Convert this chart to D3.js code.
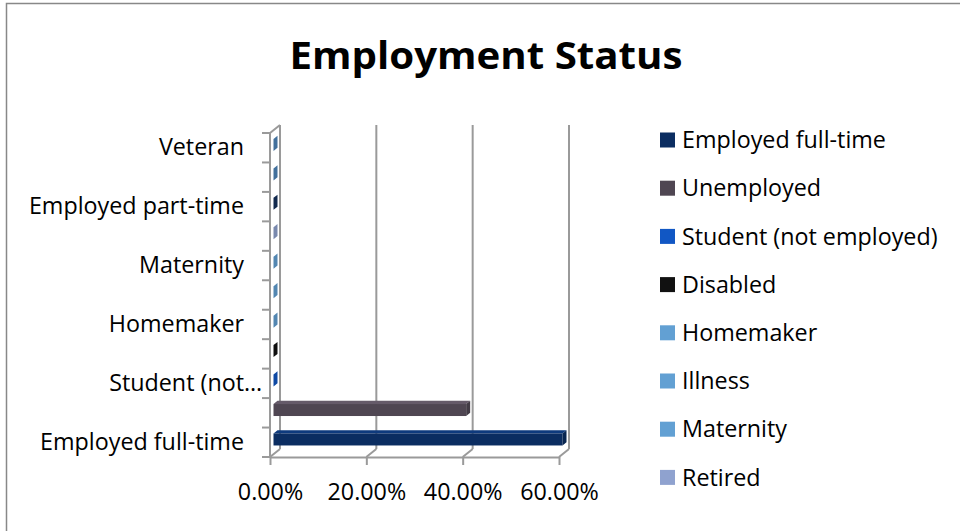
<!DOCTYPE html>
<html>
<head>
<meta charset="utf-8">
<script src="https://cdn.jsdelivr.net/npm/d3@7"></script>
<style>
  html, body { margin: 0; padding: 0; background: #fff; }
  svg { display: block; }
  text { font-family: "Open Sans", Lato, sans-serif; fill: #000; }
</style>
</head>
<body>
<svg id="chart" width="960" height="531"></svg>
<script>
// Employment status responses (share of respondents)
const categories = [
  "Employed full-time", "Unemployed", "Student (not employed)", "Disabled",
  "Homemaker", "Illness", "Maternity", "Retired",
  "Employed part-time", "Self-employed", "Veteran"
];
const values = [0.60, 0.40, 0, 0, 0, 0, 0, 0, 0, 0, 0];
const colors = [
  "#0B2D61", "#4F4652", "#1157C4", "#111111",
  "#62A0D3", "#62A0D3", "#62A0D3", "#8FA2CF",
  "#13305C", "#4F86BA", "#4F86BA"
];
// category axis shows every other label
const categoryTickLabels = [
  "Employed full-time", "", "Student (not…", "", "Homemaker", "",
  "Maternity", "", "Employed part-time", "", "Veteran"
];
const xTicks = [0, 0.2, 0.4, 0.6];
const legendCount = 8;   // legend box only has room for the first eight entries

const svg = d3.select("#chart");
const gridColor = "#9a9a9a";
const labelFont = "23.3px";

// chart frame
svg.append("rect")
  .attr("x", 6.5).attr("y", 3.5)
  .attr("width", 980).attr("height", 560)
  .attr("fill", "none").attr("stroke", "#888").attr("stroke-width", 1.5);

// title
svg.append("text")
  .attr("x", 486).attr("y", 69)
  .attr("text-anchor", "middle")
  .attr("textLength", 393).attr("lengthAdjust", "spacingAndGlyphs")
  .style("font-size", "38px").style("font-weight", 700)
  .text("Employment Status");

// scales (front plane of the 3-D box)
const x = d3.scaleLinear().domain([0, 0.6]).range([270, 559]);
const y = d3.scaleBand().domain(categories).range([457, 133]);
const depth = { x: 10, y: -8 };          // offset from front to back wall
const bw = y.bandwidth();
const yTop = y.range()[1], yBottom = y.range()[0];

const grid = svg.append("g")
  .attr("stroke", gridColor).attr("stroke-width", 2).attr("fill", "none");

// back wall vertical gridlines + floor depth lines
xTicks.forEach(t => {
  const xf = x(t), xb = x(t) + depth.x;
  grid.append("line")
    .attr("x1", xb).attr("x2", xb)
    .attr("y1", yTop + depth.y).attr("y2", yBottom + depth.y);
  grid.append("line")
    .attr("x1", xf).attr("y1", yBottom)
    .attr("x2", xb).attr("y2", yBottom + depth.y);
});

// side wall: front edge and top slant
grid.append("line")
  .attr("x1", x(0)).attr("x2", x(0))
  .attr("y1", yTop).attr("y2", yBottom);
grid.append("line")
  .attr("x1", x(0)).attr("y1", yTop)
  .attr("x2", x(0) + depth.x).attr("y2", yTop + depth.y);

// category tick marks at band boundaries
const boundaries = categories.map(c => y(c) + bw).concat([yTop]);
grid.selectAll("line.ytick").data(boundaries).join("line")
  .attr("class", "ytick")
  .attr("x1", x(0) - 8).attr("x2", x(0))
  .attr("y1", d => d).attr("y2", d => d);

// value axis along the floor front edge
const xAxis = svg.append("g")
  .attr("transform", `translate(0,${yBottom})`)
  .call(d3.axisBottom(x).tickValues(xTicks)
    .tickFormat(d3.format(".2%")).tickSize(8).tickSizeOuter(0).tickPadding(18));
xAxis.select(".domain").attr("stroke", gridColor).attr("stroke-width", 2);
xAxis.selectAll(".tick line").attr("stroke", gridColor).attr("stroke-width", 2);
xAxis.selectAll(".tick text")
  .style("font-size", labelFont).style("font-family", "'Open Sans', sans-serif").attr("fill", "#000");

// category labels
const yAxis = svg.append("g")
  .attr("transform", `translate(${x(0)},0)`)
  .call(d3.axisLeft(y).tickSize(0).tickPadding(26)
    .tickFormat((d, i) => categoryTickLabels[i].replace("…", "")));
yAxis.select(".domain").remove();
yAxis.selectAll(".tick text")
  .style("font-size", labelFont).style("font-family", "'Open Sans', sans-serif").attr("fill", "#000");
// truncated labels keep their ellipsis hanging past the label edge
yAxis.selectAll(".tick").each(function (d, i) {
  if (categoryTickLabels[i].endsWith("…")) {
    d3.select(this).append("text")
      .attr("x", -26).attr("dy", "0.32em")
      .attr("text-anchor", "start")
      .style("font-size", labelFont).style("font-family", "'Open Sans', sans-serif")
      .attr("fill", "#000")
      .text("…");
  }
});

// 3-D bars
const barH = 12;
const f0 = 0.35, th = 0.4;               // bar front position and thickness as fraction of depth
const bars = svg.append("g");
categories.forEach((c, i) => {
  const v = values[i];
  const base = d3.color(colors[i]);
  const cy = y(c) + bw / 2 + depth.y * f0;
  const x0 = x(0) + depth.x * f0, x1 = x(v) + depth.x * f0;
  const y0 = cy - barH / 2, y1 = cy + barH / 2;
  const dx = depth.x * th, dy = depth.y * th;
  const g = bars.append("g");
  // top face
  g.append("polygon")
    .attr("points", [[x0, y0], [x1, y0], [x1 + dx, y0 + dy], [x0 + dx, y0 + dy]].join(" "))
    .attr("fill", base.brighter(0.7));
  // front face
  g.append("rect")
    .attr("x", x0).attr("y", y0)
    .attr("width", x1 - x0).attr("height", barH)
    .attr("fill", base);
  // end face
  g.append("polygon")
    .attr("points", [[x1, y0], [x1 + dx, y0 + dy], [x1 + dx, y1 + dy], [x1, y1]].join(" "))
    .attr("fill", base.darker(0.5));
});

// legend
const legend = svg.append("g");
categories.slice(0, legendCount).forEach((c, i) => {
  const cy = 140 + i * 48.2;
  legend.append("rect")
    .attr("x", 660).attr("y", cy - 7.5)
    .attr("width", 15).attr("height", 15)
    .attr("fill", colors[i]);
  legend.append("text")
    .attr("x", 682).attr("y", cy).attr("dy", "0.35em")
    .style("font-size", labelFont)
    .text(c);
});
</script>
</body>
</html>
